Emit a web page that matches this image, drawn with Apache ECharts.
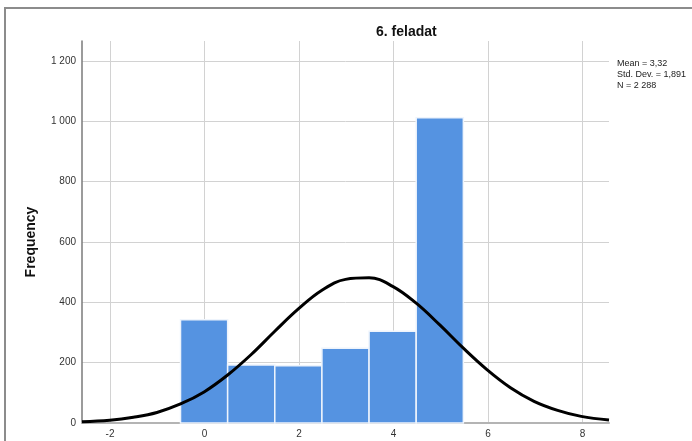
<!DOCTYPE html>
<html>
<head>
<meta charset="utf-8">
<script src="https://cdn.jsdelivr.net/npm/echarts@6/dist/echarts.min.js"></script>
<style>
  * { margin: 0; padding: 0; }
  body { background: #fff; }
  #wrap { position: relative; width: 692px; height: 441px; overflow: hidden; }
  #frame {
    position: absolute; left: 4px; top: 7px; width: 720px; height: 460px;
    border-top: 2px solid #8c8c8c; border-left: 2px solid #8c8c8c;
  }
  #main { position: absolute; left: 0; top: 0; width: 692px; height: 441px; }
</style>
</head>
<body>
<div id="wrap">
  <div id="frame"></div>
  <div id="main"></div>
</div>
<script>
// histogram bins (centre of each bin, width 1) and their counts
const binCenters = [0, 1, 2, 3, 4, 5];
const counts = [342, 192, 190, 248, 304, 1012];

// normal curve
const curveX = [-2.59, -2, -1.5, -1, -0.5, 0, 0.5, 1, 1.5, 2, 2.5, 3, 3.5, 4, 4.5, 5, 5.5, 6, 6.5, 7, 7.5, 8, 8.59];
const curveY = [4, 9, 19, 35, 63, 103, 159, 227, 304, 378, 440, 476, 481, 453, 397, 325, 248, 177, 117, 72, 42, 22, 10];

const xTicks = [-2, 0, 2, 4, 6, 8];
const yTicks = [0, 200, 400, 600, 800, 1000, 1200];
const statLines = ['Mean = 3,32', 'Std. Dev. = 1,891', 'N = 2 288'];

const xMin = -2.59, xMax = 8.59, yMax = 1266;

function fmtThousands(v) {
  return String(v).replace(/\B(?=(\d{3})+(?!\d))/g, ' ');
}

let myChart = echarts.init(document.getElementById('main'));

myChart.setOption({
  animation: false,
  title: {
    text: '6. feladat',
    left: 371,
    top: 20,
    textStyle: { fontFamily: 'Liberation Sans', fontWeight: 'bold', fontSize: 14, color: '#111' }
  },
  grid: [
    { left: 82, right: 83, top: 61, bottom: 18 },   // horizontal grid lines + y labels
    { left: 110, right: 109.5, top: 41, bottom: 18 }, // vertical grid lines + x labels
    { left: 82, right: 83, top: 41, bottom: 18 }    // data
  ],
  xAxis: [
    { gridIndex: 0, type: 'value', min: 0, max: 1, show: false },
    {
      gridIndex: 1, type: 'value', min: xTicks[0], max: xTicks[xTicks.length - 1], interval: 2,
      axisLine: { show: false }, axisTick: { show: false },
      axisLabel: { fontFamily: 'Liberation Sans', fontSize: 10, color: '#333', margin: 6 },
      splitLine: { show: true, lineStyle: { color: '#d2d2d2', width: 1 } }
    },
    {
      gridIndex: 2, type: 'value', min: xMin, max: xMax,
      axisLine: { show: true, onZero: false, lineStyle: { color: '#b4b4b4', width: 2 } },
      axisTick: { show: false }, axisLabel: { show: false }, splitLine: { show: false }
    }
  ],
  yAxis: [
    {
      gridIndex: 0, type: 'value', min: yTicks[0], max: yTicks[yTicks.length - 1], interval: 200,
      name: 'Frequency', nameLocation: 'middle', nameGap: 44,
      nameTextStyle: { fontFamily: 'Liberation Sans', fontWeight: 'bold', fontSize: 14, color: '#111' },
      axisLine: { show: false }, axisTick: { show: false },
      axisLabel: { fontFamily: 'Liberation Sans', fontSize: 10, color: '#333', margin: 6, formatter: fmtThousands },
      splitLine: { show: true, lineStyle: { color: '#d2d2d2', width: 1 } }
    },
    { gridIndex: 1, type: 'value', min: 0, max: 1, show: false },
    {
      gridIndex: 2, type: 'value', min: 0, max: yMax,
      axisLine: { show: true, onZero: false, lineStyle: { color: '#7a7a7a', width: 1.5 } },
      axisTick: { show: false }, axisLabel: { show: false }, splitLine: { show: false }
    }
  ],
  graphic: statLines.map((t, i) => ({
    type: 'text', left: 617, top: 59 + i * 11,
    style: { text: t, font: '9px "Liberation Sans"', fill: '#222' }
  })),
  series: [
    {
      type: 'custom',
      xAxisIndex: 2, yAxisIndex: 2,
      data: binCenters.map((c, i) => [c, counts[i]]),
      renderItem: function (params, api) {
        const p0 = api.coord([api.value(0) - 0.5, api.value(1)]);
        const p1 = api.coord([api.value(0) + 0.5, 0]);
        return {
          type: 'rect',
          shape: { x: p0[0], y: p0[1], width: p1[0] - p0[0], height: p1[1] - p0[1] },
          style: { fill: '#5593e1', stroke: '#eef4fc', lineWidth: 1.5 }
        };
      },
      z: 2
    },
    {
      type: 'line',
      xAxisIndex: 2, yAxisIndex: 2,
      data: curveX.map((x, i) => [x, curveY[i]]),
      smooth: 0.4,
      showSymbol: false,
      lineStyle: { color: '#000', width: 3 },
      z: 3
    }
  ]
});
</script>
</body>
</html>
